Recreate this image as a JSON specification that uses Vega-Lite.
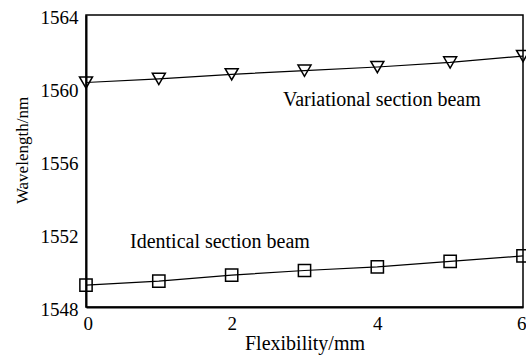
{
  "$schema": "https://vega.github.io/schema/vega-lite/v6.json",
  "autosize": "none",
  "width": 437,
  "height": 292,
  "padding": {"left": 86, "top": 15, "right": 3, "bottom": 49},
  "background": "white",
  "config": {
    "view": {"stroke": "black", "strokeWidth": 1.5},
    "font": "Liberation Serif"
  },
  "datasets": {
    "pts": [
      {"flex": 0, "wl": 1560.3, "beam": "Variational"},
      {"flex": 1, "wl": 1560.5, "beam": "Variational"},
      {"flex": 2, "wl": 1560.75, "beam": "Variational"},
      {"flex": 3, "wl": 1560.95, "beam": "Variational"},
      {"flex": 4, "wl": 1561.15, "beam": "Variational"},
      {"flex": 5, "wl": 1561.4, "beam": "Variational"},
      {"flex": 6, "wl": 1561.75, "beam": "Variational"},
      {"flex": 0, "wl": 1549.2, "beam": "Identical"},
      {"flex": 1, "wl": 1549.42, "beam": "Identical"},
      {"flex": 2, "wl": 1549.75, "beam": "Identical"},
      {"flex": 3, "wl": 1550.0, "beam": "Identical"},
      {"flex": 4, "wl": 1550.2, "beam": "Identical"},
      {"flex": 5, "wl": 1550.5, "beam": "Identical"},
      {"flex": 6, "wl": 1550.8, "beam": "Identical"}
    ],
    "labels": [
      {"flex": 2.705, "wl": 1559.34, "text": "Variational section beam"},
      {"flex": 0.604, "wl": 1551.58, "text": "Identical section beam"}
    ]
  },
  "encoding": {
    "x": {
      "field": "flex", "type": "quantitative",
      "scale": {"domain": [0, 6], "nice": false, "zero": false},
      "axis": {
        "title": "Flexibility/mm", "values": [0, 2, 4, 6], "grid": false, "format": "d",
        "ticks": false, "domainColor": "black", "domainWidth": 2,
        "labelFont": "Liberation Serif", "labelFontSize": 19, "labelColor": "black",
        "labelPadding": 7, "labelBaseline": "top", "labelFlush": true, "labelFlushOffset": 3,
        "titleFont": "Liberation Serif", "titleFontSize": 20, "titleFontWeight": "normal",
        "titleColor": "black", "titleY": 36, "titleBaseline": "middle"
      }
    },
    "y": {
      "field": "wl", "type": "quantitative",
      "scale": {"domain": [1548, 1564], "nice": false, "zero": false},
      "axis": {
        "title": "Wavelength/nm", "values": [1548, 1552, 1556, 1560, 1564], "grid": false, "format": "d",
        "ticks": false, "domainColor": "black", "domainWidth": 2,
        "labelFont": "Liberation Serif", "labelFontSize": 19, "labelColor": "black",
        "labelPadding": 8, "labelBaseline": "middle", "labelOffset": 2, "labelFlush": false,
        "titleFont": "Liberation Serif", "titleFontSize": 17, "titleFontWeight": "normal",
        "titleColor": "black", "titleX": -64, "titleY": 135, "titleAngle": -90,
        "titleAlign": "center", "titleBaseline": "middle"
      }
    }
  },
  "layer": [
    {
      "data": {"name": "pts"},
      "mark": {"type": "line", "color": "black", "strokeWidth": 1.2},
      "encoding": {"detail": {"field": "beam"}}
    },
    {
      "data": {"name": "pts"},
      "transform": [{"filter": "datum.beam === 'Variational'"}],
      "mark": {"type": "point", "shape": "triangle-down", "size": 169, "filled": false, "stroke": "black", "strokeWidth": 1.5, "opacity": 1}
    },
    {
      "data": {"name": "pts"},
      "transform": [{"filter": "datum.beam === 'Identical'"}],
      "mark": {"type": "point", "shape": "square", "size": 150, "filled": false, "stroke": "black", "strokeWidth": 1.5, "opacity": 1}
    },
    {
      "data": {"name": "labels"},
      "mark": {"type": "text", "align": "left", "baseline": "middle", "font": "Liberation Serif", "fontSize": 20, "color": "black"},
      "encoding": {"text": {"field": "text"}}
    }
  ]
}
